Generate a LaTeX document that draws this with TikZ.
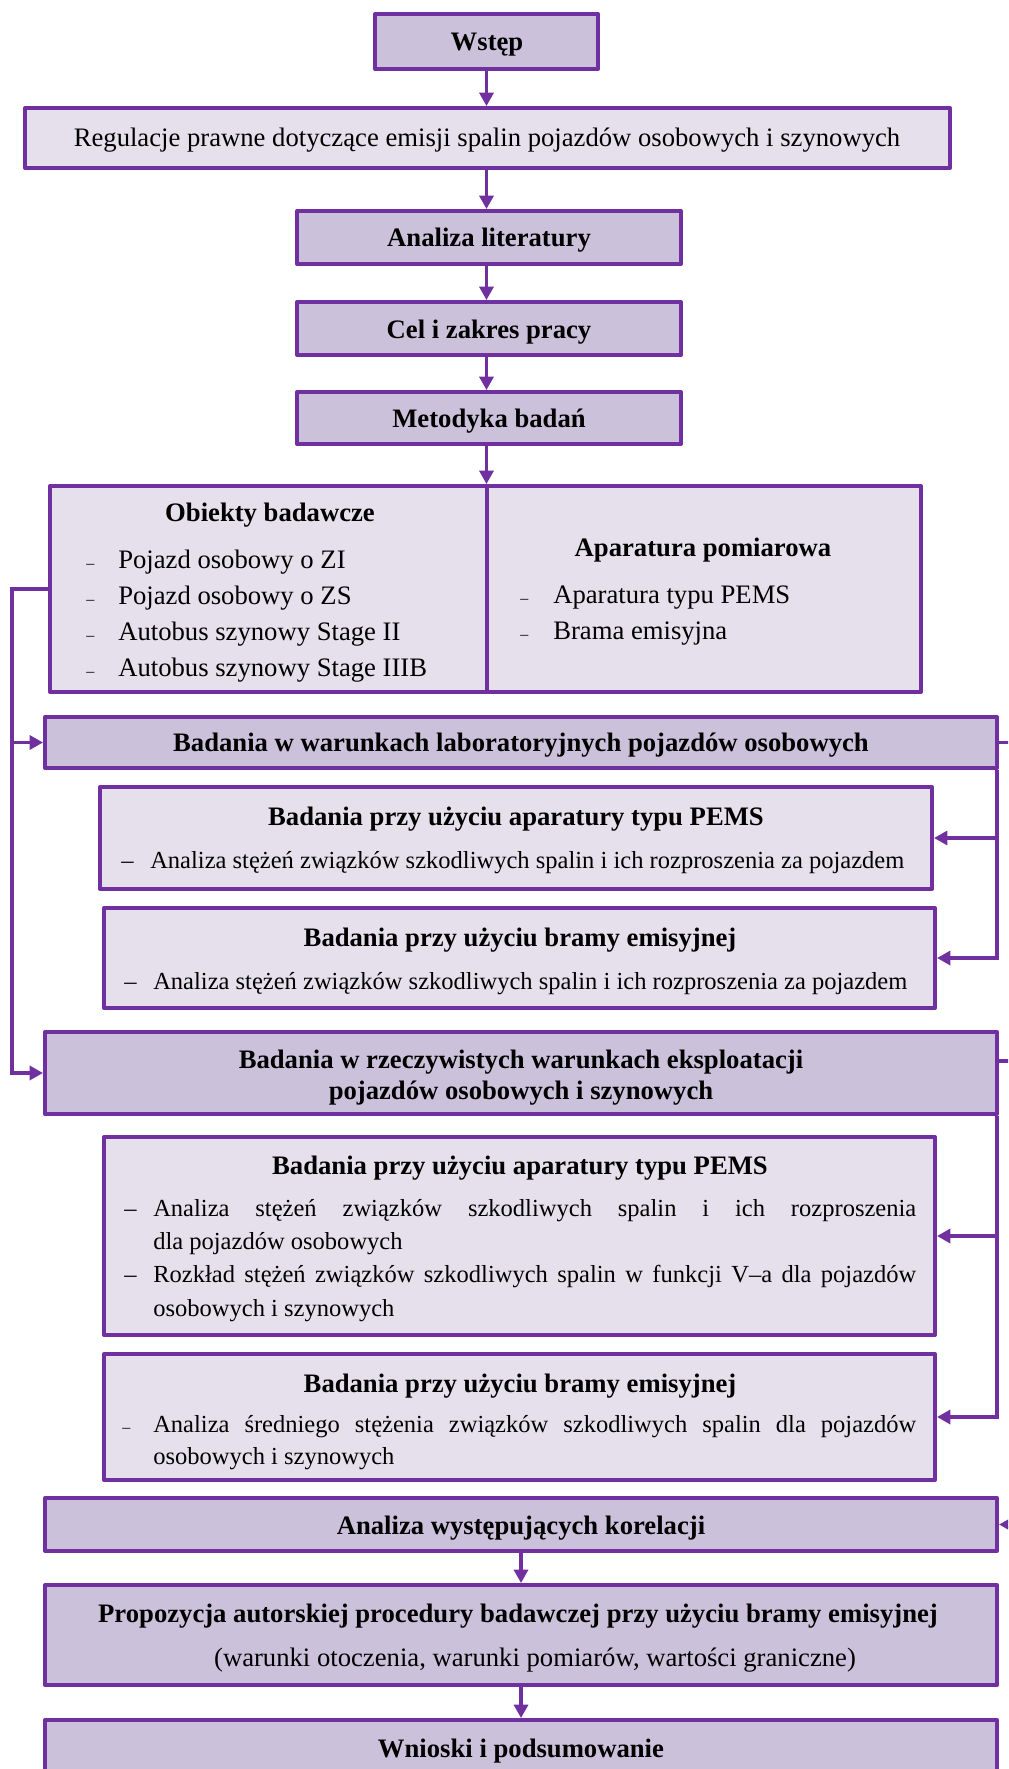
\documentclass[tikz,border=0pt]{standalone}
\usepackage{fontspec}
\setmainfont{Liberation Serif}
\usetikzlibrary{arrows.meta,fit,calc}
\definecolor{vio}{HTML}{7030A0}
\definecolor{lilacD}{HTML}{CCC1DA}
\definecolor{lilacL}{HTML}{E5E0EC}

\begin{document}
\begin{tikzpicture}[x=0.75pt,y=-0.75pt,
  frame/.style={draw=vio, line width=3pt, line join=round, inner sep=0pt},
  dark/.style={frame, fill=lilacD},
  light/.style={frame, fill=lilacL},
  wire/.style={draw=vio, line width=2.4pt},
  arr/.style={wire, -{Triangle[length=10pt,width=10.5pt]}},
  hd/.style={font=\bfseries\fontsize{20}{24}\selectfont, inner sep=0pt, anchor=base},
  tx/.style={font=\fontsize{20}{24}\selectfont, inner sep=0pt, anchor=base},
  txl/.style={font=\fontsize{20}{24}\selectfont, inner sep=0pt, anchor=base west},
  sm/.style={font=\fontsize{18.4}{22}\selectfont, inner sep=0pt, anchor=base west},
  tick/.style={font=\fontsize{12}{14}\selectfont, inner sep=0pt, anchor=base west},
]
\clip (0,0) rectangle (1008,1769);
\fill[white] (0,0) rectangle (1008,1769);

% ---------- boxes ----------
\node[dark,  fit={(375,14)(598,69)}]     (wstep) {};
\node[light, fit={(25,108)(950,168)}]    (reg) {};
\node[dark,  fit={(297,211)(681,264)}]   (lit) {};
\node[dark,  fit={(297,302)(681,355)}]   (cel) {};
\node[dark,  fit={(297,392)(681,444)}]   (met) {};
\node[light, fit={(50,486)(487,692)}]    (obj) {};
\node[light, fit={(487,486)(921,692)}]   (apa) {};
\node[dark,  fit={(45,717)(997,768)}]    (lab) {};
\node[light, fit={(100,787)(932,889)}]   (pemslab) {};
\node[light, fit={(104,908)(935,1008)}]  (bramalab) {};
\node[dark,  fit={(45,1032)(997,1114)}]  (real) {};
\node[light, fit={(104,1137)(935,1335)}] (pemsreal) {};
\node[light, fit={(104,1354)(935,1480)}] (bramareal) {};
\node[dark,  fit={(45,1498)(997,1551)}]  (kor) {};
\node[dark,  fit={(45,1585)(997,1685)}]  (prop) {};
\node[dark,  fit={(45,1720)(997,1800)}]  (wn) {};

% ---------- texts ----------
\node[hd] (t-wstep) at (487,51) {Wstęp};
\node[tx] (t-reg) at (487,147) {Regulacje prawne dotyczące emisji spalin pojazdów osobowych i szynowych};
\node[hd] (t-lit) at (489,247) {Analiza literatury};
\node[hd] (t-cel) at (489,338) {Cel i zakres pracy};
\node[hd] (t-met) at (489,427) {Metodyka badań};

\node[hd] (t-obj) at (270,521) {Obiekty badawcze};
\foreach \y/\s [count=\i] in {568/Pojazd osobowy o ZI, 604/Pojazd osobowy o ZS,
    640/Autobus szynowy Stage II, 676/Autobus szynowy Stage IIIB}{
  \node[tick] (obj-d\i) at (86,\y) {–};
  \node[txl] (obj-t\i) at (118,\y) {\s};
}
\node[hd] (t-apa) at (703,556) {Aparatura pomiarowa};
\node[tick] (apa-d1) at (520,603) {–};
\node[txl]  (apa-t1) at (553,603) {Aparatura typu PEMS};
\node[tick] (apa-d2) at (520,639) {–};
\node[txl]  (apa-t2) at (553,639) {Brama emisyjna};

\node[hd] (t-lab) at (521,751) {Badania w warunkach laboratoryjnych pojazdów osobowych};
\node[hd] (t-pl) at (516,825) {Badania przy użyciu aparatury typu PEMS};
\node[sm] (pl-d) at (121,868) {–};
\node[sm] (pl-t) at (150,868) {Analiza stężeń związków szkodliwych spalin i ich rozproszenia za pojazdem};
\node[hd] (t-bl) at (520,946) {Badania przy użyciu bramy emisyjnej};
\node[sm] (bl-d) at (124,989) {–};
\node[sm] (bl-t) at (153,989) {Analiza stężeń związków szkodliwych spalin i ich rozproszenia za pojazdem};

\node[hd] (t-real1) at (521,1068) {Badania w rzeczywistych warunkach eksploatacji};
\node[hd] (t-real2) at (521,1099) {pojazdów osobowych i szynowych};
\node[hd] (t-pr) at (520,1174) {Badania przy użyciu aparatury typu PEMS};
\node[sm] (pr-d1) at (124,1216) {–};
\node[sm] (pr-t1) at (153,1216) {\makebox[572.25pt][s]{Analiza stężeń związków szkodliwych spalin i ich rozproszenia}};
\node[sm] (pr-t2) at (153,1249) {dla pojazdów osobowych};
\node[sm] (pr-d3) at (124,1282) {–};
\node[sm] (pr-t3) at (153,1282) {\makebox[572.25pt][s]{Rozkład stężeń związków szkodliwych spalin w funkcji V–a dla pojazdów}};
\node[sm] (pr-t4) at (153,1316) {osobowych i szynowych};
\node[hd] (t-br) at (520,1392) {Badania przy użyciu bramy emisyjnej};
\node[tick] (br-d1) at (122,1432) {–};
\node[sm] (br-t1) at (153,1432) {\makebox[572.25pt][s]{Analiza średniego stężenia związków szkodliwych spalin dla pojazdów}};
\node[sm] (br-t2) at (153,1464) {osobowych i szynowych};

\node[hd] (t-kor) at (521,1534) {Analiza występujących korelacji};
\node[hd] (t-prop1) at (518,1622) {Propozycja autorskiej procedury badawczej przy użyciu bramy emisyjnej};
\node[tx] (t-prop2) at (535,1666) {(warunki otoczenia, warunki pomiarów, wartości graniczne)};
\node[hd] (t-wn) at (521,1757) {Wnioski i podsumowanie};

% ---------- central flow ----------
\draw[arr] (wstep.south) -- (wstep.south |- reg.north);
\draw[arr] (wstep.south |- reg.south) -- (wstep.south |- lit.north);
\draw[arr] (wstep.south |- lit.south) -- (wstep.south |- cel.north);
\draw[arr] (wstep.south |- cel.south) -- (wstep.south |- met.north);
\draw[arr] (wstep.south |- met.south) -- (wstep.south |- obj.north);
\draw[arr] (kor.south) -- (kor.south |- prop.north);
\draw[arr] (prop.south) -- (prop.south |- wn.north);

% ---------- left branch ----------
\coordinate (Lx) at (12,0);
\draw[arr] (obj.west) -| (Lx |- real.west) -- (real.west);
\draw[arr] (Lx |- lab.west) -- (lab.west);

% ---------- right branches ----------
\coordinate (Rx) at (997,0);
\coordinate (Ex) at (1040,0);
\draw[wire] (lab.east) -- (lab.east -| Ex);
\draw[arr] (Rx |- lab.south) |- (bramalab.east);
\draw[arr] (Rx |- pemslab.east) -- (pemslab.east);

\coordinate (realtap) at ($(real.north east)!0.36!(real.south east)$);
\draw[wire] (realtap) -- (realtap -| Ex);
\draw[arr] (Rx |- real.south) |- (bramareal.east);
\draw[arr] (Rx |- pemsreal.east) -- (pemsreal.east);

\draw[arr] (kor.east -| Ex) -- (kor.east);
\end{tikzpicture}
\end{document}
